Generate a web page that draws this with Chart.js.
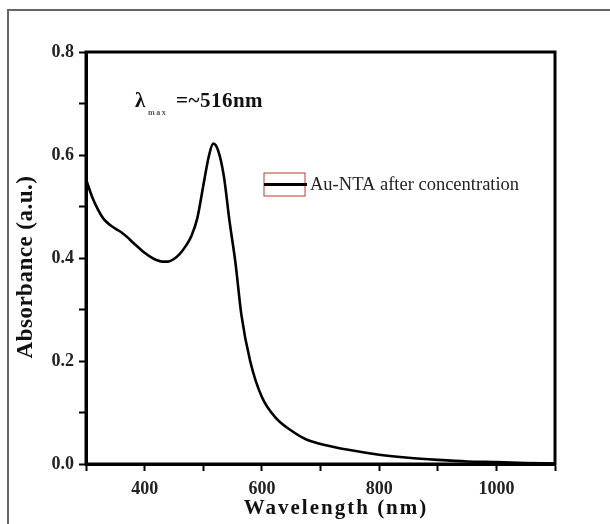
<!DOCTYPE html>
<html>
<head>
<meta charset="utf-8">
<script src="https://cdn.jsdelivr.net/npm/chart.js@4.4.1/dist/chart.umd.min.js"></script>
<style>
  html, body { margin: 0; padding: 0; background: #fff; }
  #wrap { position: relative; width: 610px; height: 524px; overflow: hidden; }
  #frame { position: absolute; left: 7px; top: 9px; width: 800px; height: 800px;
           border-top: 2px solid #666; border-left: 2px solid #666; }
  canvas { position: absolute; left: 0; top: 0; }
</style>
</head>
<body>
<div id="wrap">
  <div id="frame"></div>
  <canvas id="uvvis" width="610" height="524"></canvas>
</div>
<script>
// espectro UV-Vis

    // dados
    const wavelength = [300, 310, 320, 330, 340, 350, 360, 370, 380, 390, 400, 410, 420, 430, 440, 450, 460, 470, 480, 490, 500, 510, 517, 525, 535, 545, 555, 565, 580, 600, 625, 650, 675, 700, 750, 800, 850, 900, 950, 1000, 1050, 1100];
    const absorbance = [0.553, 0.520, 0.495, 0.476, 0.465, 0.457, 0.450, 0.441, 0.430, 0.420, 0.410, 0.402, 0.396, 0.393, 0.393, 0.398, 0.408, 0.423, 0.443, 0.478, 0.540, 0.600, 0.622, 0.610, 0.560, 0.470, 0.390, 0.290, 0.200, 0.130, 0.088, 0.065, 0.048, 0.039, 0.027, 0.018, 0.012, 0.008, 0.005, 0.004, 0.002, 0.001];
    const serieNome = 'Au-NTA after concentration';
    const tituloX = 'Wavelength (nm)';
    const tituloY = 'Absorbance (a.u.)';

    const fonte = '"Liberation Serif", "Times New Roman", serif';

    // moldura do grafico, titulos, legenda e lambda max
    const extras = {
        id: 'extras',
        afterDraw(chart) {
            const ctx = chart.ctx;
            const a = chart.chartArea;
            ctx.save();
            // moldura
            ctx.strokeStyle = '#000';
            ctx.lineWidth = 3;
            ctx.strokeRect(a.left, a.top, a.right - a.left, a.bottom - a.top);

            // titulos dos eixos
            ctx.fillStyle = '#111';
            ctx.textAlign = 'center';
            ctx.textBaseline = 'alphabetic';
            ctx.font = 'bold 21px ' + fonte;
            ctx.letterSpacing = '2px';
            ctx.fillText(tituloX, 336, 514);
            ctx.save();
            ctx.translate(32, 267);
            ctx.rotate(-Math.PI / 2);
            ctx.font = 'bold 23px ' + fonte;
            ctx.letterSpacing = '0.5px';
            ctx.fillText(tituloY, 0, 0);
            ctx.restore();

            // legenda
            ctx.letterSpacing = '0px';
            ctx.textAlign = 'left';
            const lx = a.left + 178, ly = a.top + 121;
            ctx.strokeStyle = '#c0392b';
            ctx.lineWidth = 1;
            ctx.strokeRect(lx, ly, 41, 23);
            ctx.strokeStyle = '#000';
            ctx.lineWidth = 3;
            ctx.beginPath();
            ctx.moveTo(lx, ly + 11.5);
            ctx.lineTo(lx + 43, ly + 11.5);
            ctx.stroke();
            ctx.fillStyle = '#222';
            ctx.font = '18.5px ' + fonte;
            ctx.textBaseline = 'middle';
            ctx.fillText(serieNome, lx + 46, ly + 12);

            // lambda max
            ctx.textBaseline = 'alphabetic';
            ctx.fillStyle = '#111';
            ctx.font = 'bold 21px ' + fonte;
            ctx.fillText('λ', a.left + 49, a.top + 55);
            ctx.fillStyle = '#555';
            ctx.font = 'bold 8px ' + fonte;
            ctx.letterSpacing = '1.5px';
            ctx.fillText('max', a.left + 62, a.top + 63);
            ctx.fillStyle = '#111';
            ctx.font = 'bold 21px ' + fonte;
            ctx.letterSpacing = '0.5px';
            ctx.fillText('=~516nm', a.left + 90, a.top + 55);
            ctx.restore();
        }
    };

    // grafico
    const Espectro = document.getElementById('uvvis');

    new Chart(Espectro, {
        type: 'line',
        data: {
            labels: wavelength,
            datasets: [{
                label: serieNome,
                data: wavelength.map((w, i) => ({ x: w, y: absorbance[i] })),
                borderColor: '#000',
                borderWidth: 2.6,
                pointRadius: 0,
                fill: false,
                cubicInterpolationMode: 'monotone'
            }]
        },
        options: {
            responsive: false,
            animation: false,
            layout: { padding: { left: 0, right: 55, top: 52, bottom: 0 } },
            plugins: {
                legend: { display: false },
                tooltip: { enabled: false }
            },
            scales: {
                x: {
                    type: 'linear',
                    min: 300,
                    max: 1100,
                    afterFit(s) { s.height = 60; },
                    ticks: {
                        stepSize: 100,
                        autoSkip: false,
                        maxRotation: 0,
                        padding: 8,
                        color: '#222',
                        font: { family: fonte, size: 18, weight: 'bold' },
                        callback: v => (v % 200 === 0 ? v : '')
                    },
                    grid: { drawOnChartArea: false, tickLength: 7, tickWidth: 2, tickColor: '#000' },
                    border: { color: '#000', width: 3 }
                },
                y: {
                    min: 0,
                    max: 0.8,
                    afterFit(s) { s.width = 86; },
                    ticks: {
                        stepSize: 0.1,
                        autoSkip: false,
                        padding: 5,
                        color: '#222',
                        font: { family: fonte, size: 18, weight: 'bold' },
                        callback: v => (Math.round(v * 10) % 2 === 0 ? v.toFixed(1) : '')
                    },
                    grid: { drawOnChartArea: false, tickLength: 7, tickWidth: 2, tickColor: '#000' },
                    border: { color: '#000', width: 3 }
                }
            }
        },
        plugins: [extras]
    });
</script>
</body>
</html>
